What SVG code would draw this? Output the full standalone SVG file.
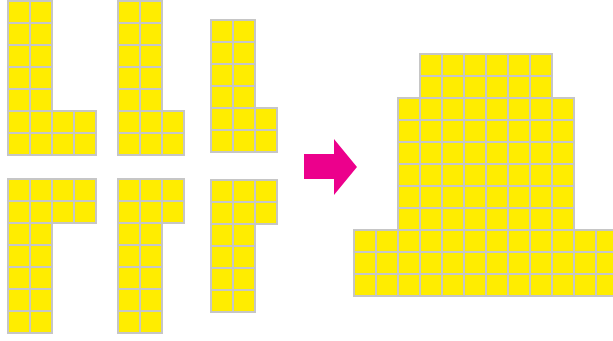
<svg xmlns="http://www.w3.org/2000/svg" width="613" height="341" viewBox="0 0 613 341">
<style>
.s{fill:url(#g);stroke:#c6c6c6;stroke-width:2;stroke-linejoin:miter}
</style>
<defs>
<pattern id="g" width="22" height="22" patternUnits="userSpaceOnUse">
<rect width="22" height="22" fill="#c6c6c6"/>
<rect x="1" y="1" width="20" height="20" fill="#ffed00"/>
</pattern>
</defs>
<rect width="613" height="341" fill="#ffffff"/>
<g id="shape1" transform="translate(8,1)"><polygon class="s" points="0,0 44,0 44,110 88,110 88,154 0,154"/></g>
<g id="shape2" transform="translate(118,1)"><polygon class="s" points="0,0 44,0 44,110 66,110 66,154 0,154"/></g>
<g id="shape3" transform="translate(211,20)"><polygon class="s" points="0,0 44,0 44,88 66,88 66,132 0,132"/></g>
<g id="shape4" transform="translate(8,179)"><polygon class="s" points="0,0 88,0 88,44 44,44 44,154 0,154"/></g>
<g id="shape5" transform="translate(118,179)"><polygon class="s" points="0,0 66,0 66,44 44,44 44,154 0,154"/></g>
<g id="shape6" transform="translate(211,180)"><polygon class="s" points="0,0 66,0 66,44 44,44 44,132 0,132"/></g>
<g id="combined" transform="translate(354,54)"><polygon class="s" points="66,0 198,0 198,44 220,44 220,176 264,176 264,242 0,242 0,176 44,176 44,44 66,44"/></g>
<g id="connectors">
<polygon points="304,154 334,154 334,139 357,167 334,195 334,179 304,179" fill="#ec008c"/>
</g>
</svg>
